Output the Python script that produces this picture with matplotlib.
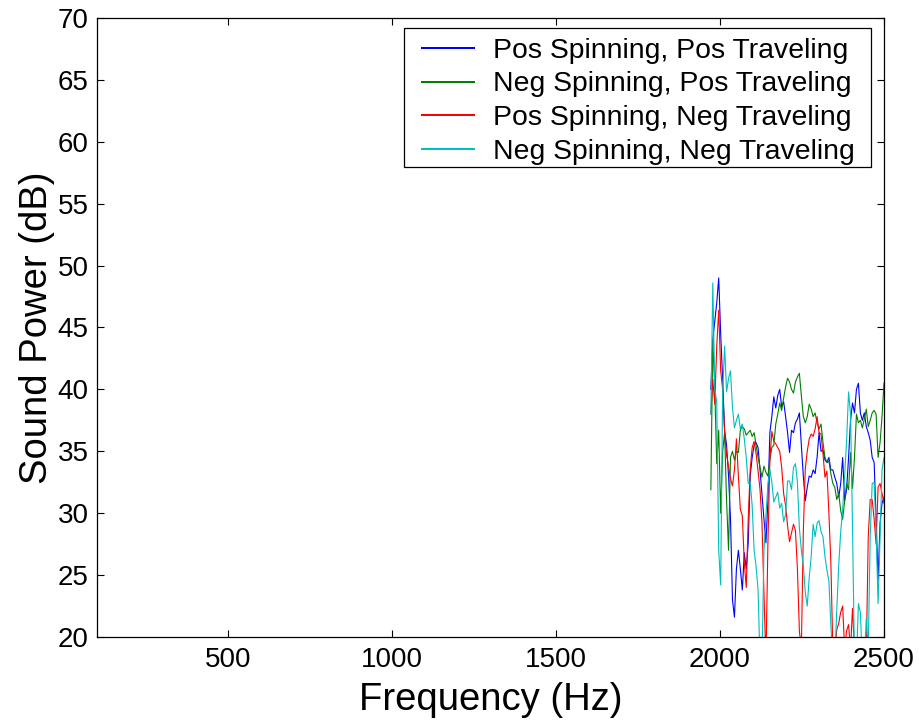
import matplotlib
matplotlib.use("Agg")
import matplotlib.pyplot as plt
from matplotlib.patches import Rectangle

plt.rcParams['font.family'] = ['Liberation Sans', 'DejaVu Sans']

# frequency bins (Hz)
freq = [1972, 1978, 1984, 1990, 1996, 2002, 2008, 2014, 2020, 2026,
        2032, 2038, 2044, 2050, 2056, 2062, 2068, 2074, 2080, 2086,
        2092, 2098, 2104, 2110, 2116, 2122, 2128, 2134, 2140, 2146,
        2152, 2158, 2164, 2170, 2176, 2182, 2188, 2194, 2200, 2206,
        2212, 2218, 2224, 2230, 2236, 2242, 2248, 2254, 2260, 2266,
        2272, 2278, 2284, 2290, 2296, 2302, 2308, 2314, 2320, 2326,
        2332, 2338, 2344, 2350, 2356, 2362, 2368, 2374, 2380, 2386,
        2392, 2398, 2404, 2410, 2416, 2422, 2428, 2434, 2440, 2446,
        2452, 2458, 2464, 2470, 2476, 2482, 2488, 2494, 2500]

# sound power (dB)
pos_spin_pos_trav = [40.0, 44.0, 45.5, 47.0, 49.0, 44.5, 40.8, 36.7, 35.5, 33.0,
                     29.5, 23.0, 21.6, 25.5, 27.0, 25.5, 23.8, 26.8, 25.5, 27.6,
                     33.0, 34.5, 35.5, 35.7, 35.3, 33.5, 31.5, 29.5, 27.6, 31.0,
                     36.5, 37.8, 39.4, 38.5, 39.5, 40.0, 38.6, 39.0, 37.8, 36.5,
                     34.9, 36.7, 36.5, 37.3, 37.6, 38.1, 35.5, 33.0, 31.0, 32.1,
                     33.0, 32.9, 33.5, 33.2, 34.5, 36.5, 35.0, 35.1, 34.3, 34.1,
                     34.5, 33.5, 33.5, 32.9, 32.4, 31.3, 32.4, 34.5, 31.0, 31.9,
                     34.5, 37.5, 38.9, 38.1, 40.0, 40.5, 38.1, 37.5, 38.1, 37.0,
                     36.5, 35.9, 34.5, 34.1, 29.5, 24.6, 29.2, 30.8, 31.3]
neg_spin_pos_trav = [31.9, 44.0, 40.0, 34.0, 36.7, 30.0, 35.0, 36.5, 31.0, 27.0,
                     34.5, 35.0, 34.3, 35.0, 34.9, 36.7, 37.0, 36.8, 36.3, 36.5,
                     36.7, 36.2, 36.5, 35.5, 34.5, 33.7, 32.9, 33.8, 33.3, 33.0,
                     34.3, 35.3, 35.5, 37.2, 38.0, 38.9, 38.3, 39.3, 40.2, 40.9,
                     40.6, 40.0, 39.7, 40.6, 41.0, 41.3, 39.5, 37.8, 37.3, 37.8,
                     38.8, 38.4, 37.8, 38.1, 37.3, 36.8, 37.2, 35.7, 34.5, 34.1,
                     34.2, 33.2, 32.4, 32.1, 31.1, 31.6, 30.2, 29.5, 31.0, 32.4,
                     31.9, 34.9, 32.0, 34.5, 38.0, 37.3, 37.5, 36.9, 37.6, 38.4,
                     37.0, 37.5, 38.1, 38.3, 38.0, 34.5, 35.7, 37.8, 40.5]
pos_spin_neg_trav = [38.0, 40.8, 38.8, 43.5, 46.4, 41.5, 40.0, 36.5, 34.7, 33.8,
                     32.8, 32.2, 33.5, 36.0, 33.0, 30.3, 29.8, 26.0, 24.0, 29.5,
                     33.5, 35.3, 35.8, 34.8, 33.4, 31.9, 29.2, 23.5, 18.0, 27.5,
                     34.3, 36.6, 35.8, 35.6, 35.3, 35.0, 33.7, 31.6, 30.6, 29.0,
                     27.7, 28.4, 29.1, 28.6, 25.5, 20.5, 19.0, 28.5, 33.6, 35.0,
                     36.0, 36.4, 36.2, 36.8, 37.8, 36.5, 36.4, 34.8, 32.9, 33.4,
                     30.0, 26.0, 19.0, 18.5, 20.6, 21.1, 22.0, 22.5, 19.0, 20.5,
                     21.0, 19.0, 22.3, 19.0, 18.0, 18.0, 19.0, 18.0, 18.0, 18.5,
                     28.1, 31.1, 31.1, 29.5, 27.5, 32.1, 32.4, 31.6, 30.8]
neg_spin_neg_trav = [38.0, 48.6, 40.0, 39.0, 27.0, 24.2, 39.8, 43.5, 39.8, 40.9,
                     41.5, 38.5, 36.9, 37.5, 38.0, 36.8, 37.2, 36.0, 34.5, 32.4,
                     32.5, 30.6, 27.0, 25.7, 23.8, 18.0, 18.0, 27.0, 29.8, 32.3,
                     33.5, 32.5, 30.9, 31.3, 31.7, 30.4, 30.8, 29.3, 29.9, 32.6,
                     32.6, 31.9, 33.7, 34.0, 32.5, 28.8, 27.0, 25.8, 23.6, 22.5,
                     24.8, 26.5, 29.1, 28.1, 29.2, 29.4, 28.5, 28.1, 26.5, 25.4,
                     24.5, 21.0, 18.0, 18.0, 22.2, 25.8, 28.5, 30.3, 33.0, 35.8,
                     39.8, 38.0, 29.0, 18.0, 18.0, 22.7, 22.0, 18.0, 18.0, 21.5,
                     19.0, 28.1, 32.4, 32.5, 28.5, 22.7, 28.0, 33.5, 34.5]

labels = ['Pos Spinning, Pos Traveling', 'Neg Spinning, Pos Traveling',
          'Pos Spinning, Neg Traveling', 'Neg Spinning, Neg Traveling']
colors = ['#0000ff', '#008000', '#ff0000', '#00bfbf']

fig = plt.figure(figsize=(9.19, 7.25), dpi=100)
ax = fig.add_axes([0.1055, 0.1214, 0.8564, 0.8538])

series = [pos_spin_pos_trav, neg_spin_pos_trav, pos_spin_neg_trav, neg_spin_neg_trav]
for s, lab, c in zip(series, labels, colors):
    ax.plot(freq, s, color=c, lw=0.8, label=lab)

ax.set_xlim(100, 2500)
ax.set_ylim(20, 70)
ax.set_xticks([500, 1000, 1500, 2000, 2500])
ax.set_yticks([20, 25, 30, 35, 40, 45, 50, 55, 60, 65, 70])
ax.tick_params(direction='in', length=5, width=0.8, top=True, right=True,
               labelsize=20)
ax.tick_params(axis='y', pad=6)
ax.tick_params(axis='x', pad=7)
for sp in ax.spines.values():
    sp.set_linewidth(0.9)

ax.set_xlabel('Frequency (Hz)', fontsize=27.5, labelpad=7)
ax.set_ylabel('Sound Power (dB)', fontsize=27.5, labelpad=2)

# matlab style legend box (wider than the entries)
box = Rectangle((0.390, 0.7593), 0.5935, 0.2246, transform=ax.transAxes,
                facecolor='white', edgecolor='black', lw=0.9, zorder=4)
ax.add_patch(box)
leg = ax.legend(loc='upper left', bbox_to_anchor=(0.413, 0.968), fontsize=20.4,
                frameon=False, handlelength=1.84, handletextpad=0.67,
                labelspacing=0.27, borderpad=0, borderaxespad=0)
leg.set_zorder(5)
for ln in leg.get_lines():
    ln.set_linewidth(1.1)
    ln.set_antialiased(False)

fig.savefig('out.png', dpi=100)
